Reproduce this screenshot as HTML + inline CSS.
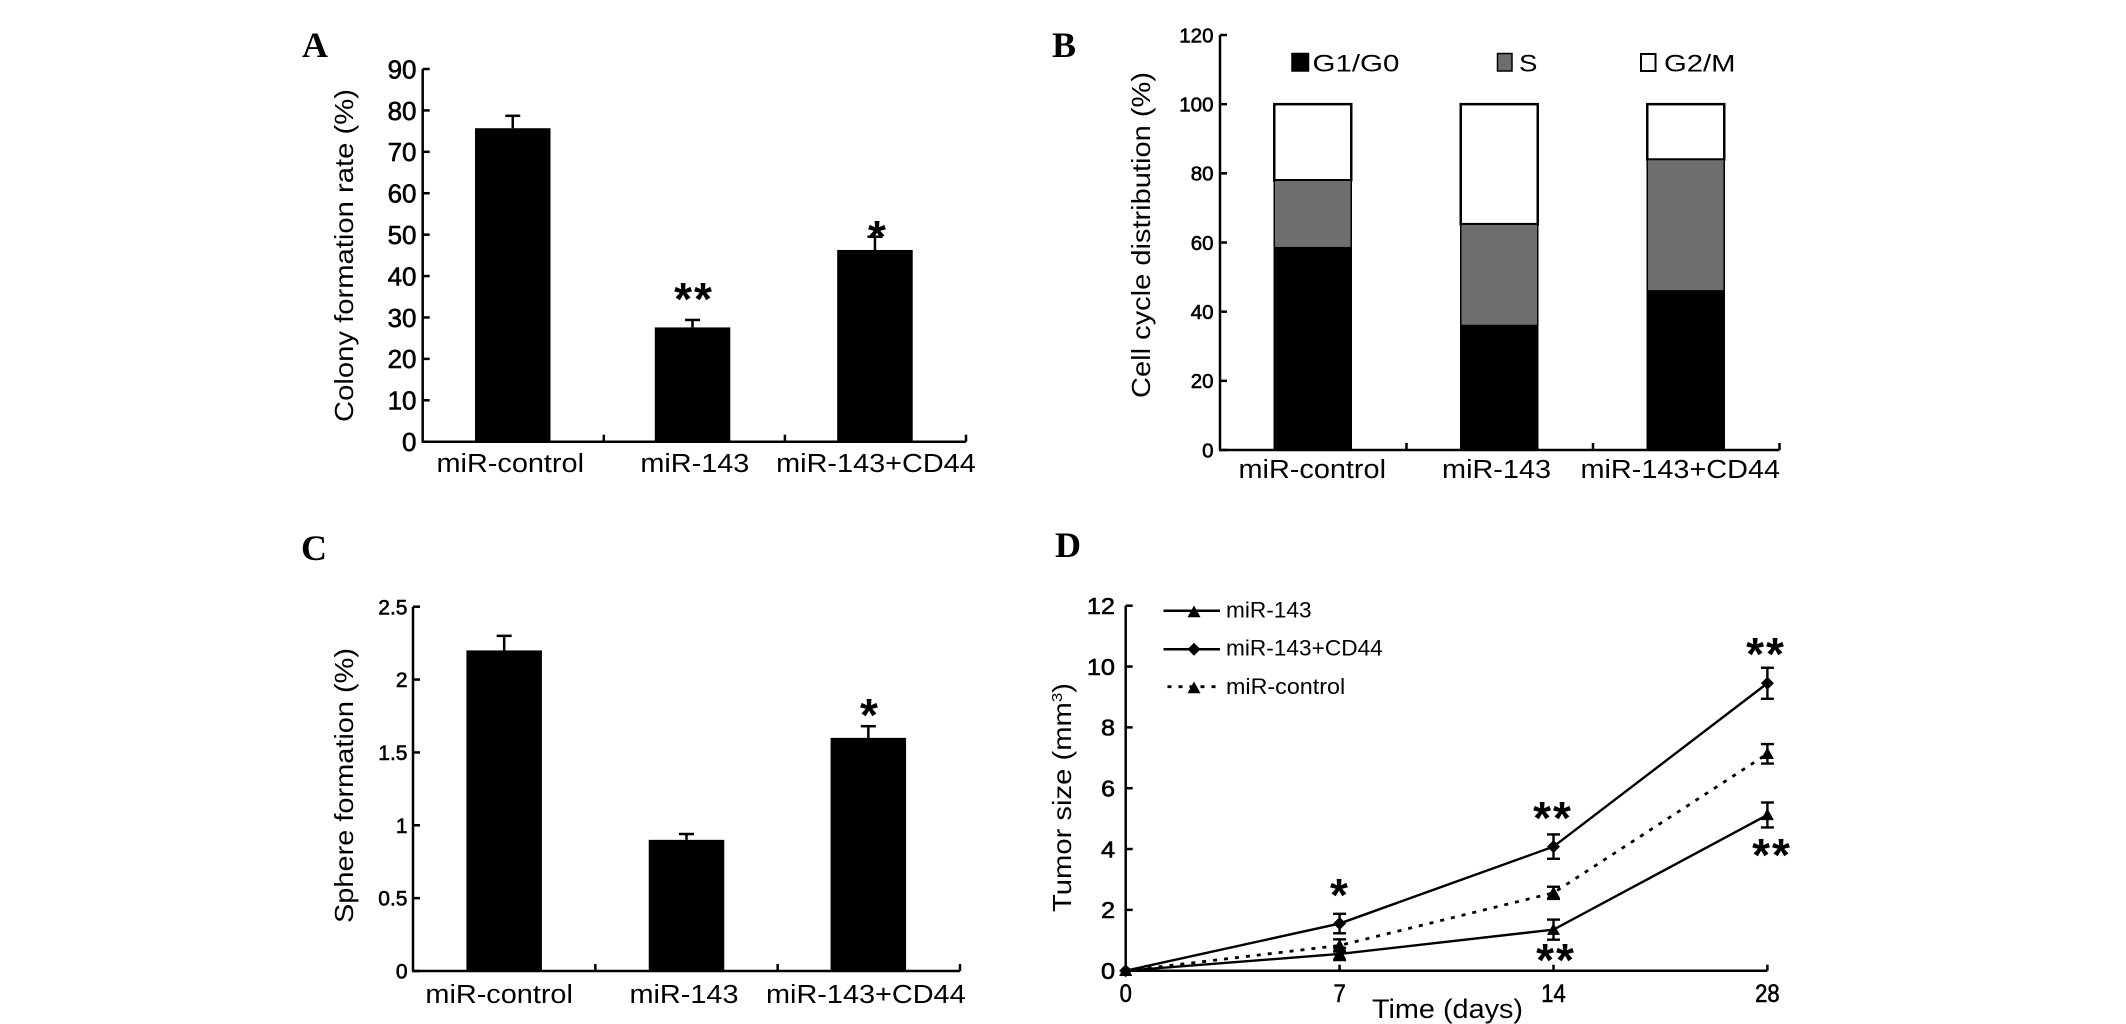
<!DOCTYPE html>
<html lang="en">
<head>
<meta charset="utf-8">
<title>Four-panel miR-143 figure</title>
<style>
html,body{margin:0;padding:0;background:#fff;}
svg{display:block;}
text{font-family:"Liberation Sans",sans-serif;fill:#000;}
.panel-letter{font-family:"Liberation Serif",serif;font-weight:bold;font-size:36px;}
.star{font-weight:bold;text-anchor:middle;font-size:46px;letter-spacing:2px;}
.axis-title{font-size:26px;}
.tick{stroke:#000;stroke-width:.6px;}
</style>
</head>
<body>
<svg id="figure" xmlns="http://www.w3.org/2000/svg" width="2126" height="1024" viewBox="0 0 2126 1024">
  <rect x="0" y="0" width="2126" height="1024" fill="#fff"/>
  <text class="panel-letter" x="302" y="57">A</text>
  <text class="panel-letter" x="1052" y="57">B</text>
  <text class="panel-letter" x="301" y="560">C</text>
  <text class="panel-letter" x="1055" y="557">D</text>

  <text class="axis-title" transform="translate(353,422) rotate(-90)" textLength="333" lengthAdjust="spacingAndGlyphs">Colony formation rate (%)</text>
  <text class="axis-title" transform="translate(1150,398) rotate(-90)" textLength="326" lengthAdjust="spacingAndGlyphs">Cell cycle distribution (%)</text>
  <text class="axis-title" transform="translate(353,923) rotate(-90)" textLength="275" lengthAdjust="spacingAndGlyphs">Sphere formation (%)</text>
  <text class="axis-title" transform="translate(1071,912) rotate(-90)" textLength="229" lengthAdjust="spacingAndGlyphs">Tumor size (mm<tspan dy="-9" font-size="15">3</tspan><tspan dy="9">)</tspan></text>
  <text class="axis-title" x="1372" y="1018" font-size="27" style="font-size:27px" textLength="151" lengthAdjust="spacingAndGlyphs">Time (days)</text>

  <text class="star" x="694" y="315">**</text>
  <text class="star" x="878" y="253">*</text>
  <text class="star" x="870" y="731">*</text>
  <text class="star" x="1340" y="911">*</text>
  <text class="star" x="1553" y="834">**</text>
  <text class="star" x="1556" y="976">**</text>
  <text class="star" x="1766" y="670">**</text>
  <text class="star" x="1772" y="871">**</text>
</svg>
<script>
// Panel A data
const colonyCategories = ['miR-control', 'miR-143', 'miR-143+CD44'];
const colonyValues = [75.7, 27.6, 46.3];
const colonyErrors = [3.0, 1.8, 3.2];
const colonyTicks = [0, 10, 20, 30, 40, 50, 60, 70, 80, 90];

// Panel B data
const cycleCategories = ['miR-control', 'miR-143', 'miR-143+CD44'];
const cycleG1 = [58.5, 36, 46];
const cycleS = [19.5, 29.3, 38];
const cycleG2 = [22, 34.7, 16];
const cycleTicks = [0, 20, 40, 60, 80, 100, 120];

// Panel C data
const sphereCategories = ['miR-control', 'miR-143', 'miR-143+CD44'];
const sphereValues = [2.2, 0.9, 1.6];
const sphereErrors = [0.1, 0.04, 0.08];
const sphereTicks = [0, 0.5, 1, 1.5, 2, 2.5];

// Panel D data
const tumorDays = ['0', '7', '14', '28'];
const tumorMir143 = [0, 0.55, 1.35, 5.12];
const tumorMir143Err = [0, 0.2, 0.33, 0.41];
const tumorCd44 = [0, 1.55, 4.08, 9.45];
const tumorCd44Err = [0, 0.32, 0.4, 0.51];
const tumorControl = [0, 0.83, 2.56, 7.13];
const tumorControlErr = [0, 0.2, 0.2, 0.32];
const tumorTicks = [0, 2, 4, 6, 8, 10, 12];

const NS = 'http://www.w3.org/2000/svg';
const svg = document.getElementById('figure');

function make(tag, attrs) {
  const el = document.createElementNS(NS, tag);
  for (const k in attrs) el.setAttribute(k, attrs[k]);
  svg.appendChild(el);
  return el;
}
function line(x1, y1, x2, y2, w) {
  return make('line', {x1: x1, y1: y1, x2: x2, y2: y2, stroke: '#000', 'stroke-width': w || 2.5});
}
function label(x, y, str, size, anchor, sx) {
  const el = make('text', {transform: 'translate(' + x + ',' + y + ') scale(' + (sx || 1) + ',1)', 'font-size': size, 'text-anchor': anchor});
  el.textContent = str;
  return el;
}
function linear(y0, yTop, max) {
  return function (v) { return y0 - v * (y0 - yTop) / max; };
}

function drawFrame(name, x0, xEnd, y0, yTop, count, ticks, tickMax, tickSize, tickRight, tickScale, bandTicks) {
  const y = linear(y0, yTop, tickMax);
  const yAxis = line(x0, y0, x0, yTop);
  
  
  const xAxis = line(x0 - 1, y0, xEnd, y0);
  
  
  ticks.forEach(function (t) {
    const mark = line(x0, y(t), x0 + 7, y(t), 2.5);
    
    
    const txt = label(tickRight, y(t) + tickSize * 0.36, String(t), tickSize, 'end', tickScale);
    txt.setAttribute('class', 'tick');
    
    
  });
  if (bandTicks) {
    const band = (xEnd - x0) / count;
    for (let i = 1; i <= count; i++) {
      const mark = line(x0 + band * i, y0, x0 + band * i, y0 - 7, 2.5);
      
      
    }
  }
  return y;
}

function drawCategoryLabels(name, cats, x0, xEnd, baseline, nudge) {
  const band = (xEnd - x0) / cats.length;
  cats.forEach(function (c, i) {
    const txt = label(x0 + band * (i + 0.5) + nudge[i], baseline, c, 26, 'middle', 1.11);
    
    
  });
}

function drawBars(name, cats, values, errors, x0, xEnd, y, barW, shift) {
  const band = (xEnd - x0) / cats.length;
  values.forEach(function (v, i) {
    const cx = x0 + band * (i + 0.5) + shift[i];
    const bar = make('rect', {x: cx - barW / 2, y: y(v), width: barW, height: y(0) - y(v), fill: '#000'});
    
    
    const stem = line(cx, y(v), cx, y(v + errors[i]), 2.5);
    
    
    const cap = line(cx - 7.5, y(v + errors[i]), cx + 7.5, y(v + errors[i]), 2.5);
    
    
  });
}

// Panel A
(function () {
  const x0 = 422.7, xEnd = 966;
  const y = drawFrame('colony', x0, xEnd, 441.7, 69, 3, colonyTicks, 90, 26, 416.5, 1, true);
  drawBars('colony', colonyCategories, colonyValues, colonyErrors, x0, xEnd, y, 75.5, [-0.5, -1.8, -0.5]);
  drawCategoryLabels('colony', colonyCategories, x0, xEnd, 472, [-3, 0.5, 0.5]);
})();

// Panel C
(function () {
  const x0 = 413, xEnd = 960;
  const y = drawFrame('sphere', x0, xEnd, 971, 606.7, 3, sphereTicks, 2.5, 21, 407.5, 1, true);
  drawBars('sphere', sphereCategories, sphereValues, sphereErrors, x0, xEnd, y, 75.5, [0, 0, -0.5]);
  drawCategoryLabels('sphere', sphereCategories, x0, xEnd, 1003, [-5, -2.5, -3]);
})();

// Panel B
(function () {
  const x0 = 1220, xEnd = 1779.5;
  const y = drawFrame('cycle', x0, xEnd, 450, 35, 3, cycleTicks, 120, 20.5, 1213.5, 1, true);
  const band = (xEnd - x0) / cycleCategories.length;
  const barW = 77;
  cycleCategories.forEach(function (c, i) {
    const cx = x0 + band * (i + 0.5) - 0.5;
    const a = cycleG1[i], b = a + cycleS[i], d = b + cycleG2[i];
    const top = make('rect', {x: cx - barW / 2, y: y(d), width: barW, height: y(b) - y(d), fill: '#fff', stroke: '#000', 'stroke-width': 2.5});
    
    
    const mid = make('rect', {x: cx - barW / 2, y: y(b), width: barW, height: y(a) - y(b), fill: '#6e6e6e', stroke: '#000', 'stroke-width': 1.5});
    
    
    const low = make('rect', {x: cx - barW / 2 - 0.75, y: y(a), width: barW + 1.5, height: y(0) - y(a), fill: '#000'});
    
    
  });
  drawCategoryLabels('cycle', cycleCategories, x0, xEnd, 478, [-1, -3.2, -6]);

  const swatch1 = make('rect', {x: 1292, y: 53.5, width: 16.5, height: 17.5, fill: '#000', stroke: '#000', 'stroke-width': 1.5});
  
  
  const legend1 = label(1312.5, 71.7, 'G1/G0', 24, 'start', 1.23);
  
  
  const swatch2 = make('rect', {x: 1497.5, y: 53.5, width: 14.5, height: 17.5, fill: '#6e6e6e', stroke: '#000', 'stroke-width': 1.5});
  
  
  const legend2 = label(1519, 71.7, 'S', 24, 'start', 1.15);
  
  
  const swatch3 = make('rect', {x: 1641, y: 54, width: 14.5, height: 17, fill: '#fff', stroke: '#000', 'stroke-width': 2});
  
  
  const legend3 = label(1664, 71.7, 'G2/M', 24, 'start', 1.22);
  
  
})();

// Panel D
(function () {
  const x0 = 1125.7, xEnd = 1767.4, y0 = 970.7;
  const y = drawFrame('tumor', x0, xEnd, y0, 605.7, 3, tumorTicks, 12, 23, 1115, 1.1, false);
  const x = function (i) { return x0 + i * (xEnd - x0) / (tumorDays.length - 1); };

  tumorDays.forEach(function (d, i) {
    if (i > 0) {
      const mark = line(x(i), y0, x(i), y0 - 6, 2.5);
      
      
    }
    const txt = label(x(i), 1002, d, 25, 'middle', 0.88);
    txt.setAttribute('class', 'tick');
    
    
  });

  function triangle(cx, cy, s) {
    return (cx) + ',' + (cy - s) + ' ' + (cx + s) + ',' + (cy + s * 0.8) + ' ' + (cx - s) + ',' + (cy + s * 0.8);
  }
  function diamond(cx, cy, s) {
    return cx + ',' + (cy - s) + ' ' + (cx + s) + ',' + cy + ' ' + cx + ',' + (cy + s) + ' ' + (cx - s) + ',' + cy;
  }
  function series(name, values, errors, shape, dash) {
    const pts = values.map(function (v, i) { return x(i) + ',' + y(v); }).join(' ');
    const path = make('polyline', {points: pts, fill: 'none', stroke: '#000', 'stroke-width': dash ? 2.8 : 2.4});
    if (dash) path.setAttribute('stroke-dasharray', dash);
    
    
    values.forEach(function (v, i) {
      if (errors[i] > 0) {
        const stem = line(x(i), y(v + errors[i]), x(i), y(v - errors[i]), 2.4);
        
        
        const capHi = line(x(i) - 6.5, y(v + errors[i]), x(i) + 6.5, y(v + errors[i]), 2.4);
        
        
        const capLo = line(x(i) - 6.5, y(v - errors[i]), x(i) + 6.5, y(v - errors[i]), 2.4);
        
        
      }
      const marker = make('polygon', {points: shape(x(i), y(v), 6.5), fill: '#000'});
      
      
    });
  }
  series('mir-143', tumorMir143, tumorMir143Err, triangle, null);
  series('mir-143-cd44', tumorCd44, tumorCd44Err, diamond, null);
  series('mir-control', tumorControl, tumorControlErr, triangle, '4 7');

  const l1 = line(1163.5, 610.7, 1220, 610.7, 2.5);
  
  
  const m1 = make('polygon', {points: triangle(1194, 612, 6.5), fill: '#000'});
  
  
  const t1 = label(1226, 617.3, 'miR-143', 22, 'start', 1.03);
  
  

  const l2 = line(1163.5, 649.3, 1220, 649.3, 2.5);
  
  
  const m2 = make('polygon', {points: diamond(1194, 649.3, 6.5), fill: '#000'});
  
  
  const t2 = label(1226, 655.7, 'miR-143+CD44', 22, 'start', 1.03);
  
  

  const l3 = line(1167.5, 686.7, 1217, 686.7, 2.8);
  l3.setAttribute('stroke-dasharray', '4 7');
  
  
  const m3 = make('polygon', {points: triangle(1194, 688, 6.5), fill: '#000'});
  
  
  const t3 = label(1226, 694, 'miR-control', 22, 'start', 1.06);
  
  
})();
</script>
</body>
</html>
